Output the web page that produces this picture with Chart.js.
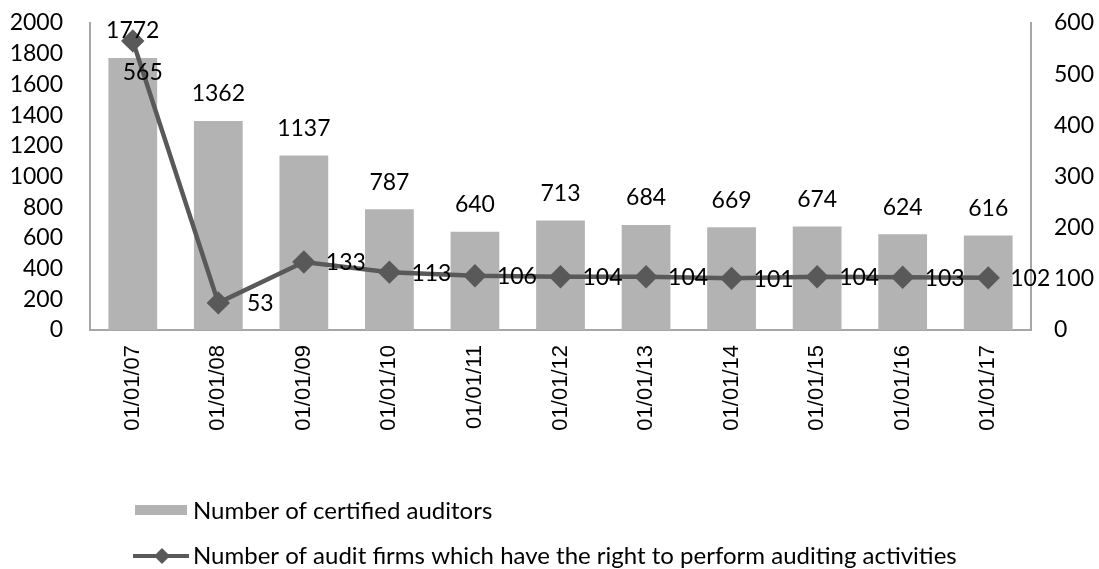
<!DOCTYPE html>
<html lang="en">
  <head>
    <script src="https://cdn.jsdelivr.net/npm/chart.js"></script>
    <meta charset="UTF-8" />
    <title>Auditors and audit firms</title>
    <style>
      body { margin: 0; background: #fff; }
      #wrap { width: 1099px; height: 569px; }
    </style>
  </head>
  <body>
    <div id="wrap"><canvas id="chart" width="1099" height="569"></canvas></div>
    <script>
      const dates = ["01/01/07", "01/01/08", "01/01/09", "01/01/10", "01/01/11", "01/01/12",
                     "01/01/13", "01/01/14", "01/01/15", "01/01/16", "01/01/17"];
      const auditors = [1772, 1362, 1137, 787, 640, 713, 684, 669, 674, 624, 616];
      const firms = [565, 53, 133, 113, 106, 104, 104, 101, 104, 103, 102];
      const auditorsLabel = "Number of certified auditors";
      const firmsLabel = "Number of audit firms which have the right to perform auditing activities";

      const labelFont = "23px Lato";
      const legendFont = "24px Lato";
      const barColor = "#b3b3b3";
      const lineColor = "#595959";
      const axisColor = "#a6a6a6";

      // value labels + legend, drawn on the canvas
      const extras = {
        id: "extras",
        afterDatasetsDraw(chart) {
          const ctx = chart.ctx;
          ctx.save();
          ctx.font = labelFont;
          ctx.fillStyle = "#000";
          ctx.textAlign = "center";
          ctx.textBaseline = "middle";
          chart.getDatasetMeta(1).data.forEach((bar, i) => {
            ctx.fillText(auditors[i], bar.x, bar.y - 27);
          });
          chart.getDatasetMeta(0).data.forEach((pt, i) => {
            if (i === 0) ctx.fillText(firms[i], pt.x + 10, pt.y + 32);
            else ctx.fillText(firms[i], pt.x + 42, pt.y + 1);
          });

          // legend
          ctx.font = legendFont;
          ctx.textAlign = "left";
          ctx.fillStyle = barColor;
          ctx.fillRect(135, 505, 52, 10);
          ctx.fillStyle = "#000";
          ctx.fillText(auditorsLabel, 193, 511);
          ctx.strokeStyle = lineColor;
          ctx.lineWidth = 4;
          ctx.beginPath();
          ctx.moveTo(133, 556);
          ctx.lineTo(189, 556);
          ctx.stroke();
          ctx.fillStyle = lineColor;
          ctx.beginPath();
          ctx.moveTo(162, 548);
          ctx.lineTo(170, 556);
          ctx.lineTo(162, 564);
          ctx.lineTo(154, 556);
          ctx.closePath();
          ctx.fill();
          ctx.fillStyle = "#000";
          ctx.fillText(firmsLabel, 193, 556);
          ctx.restore();
        }
      };

      new Chart(document.getElementById("chart"), {
        data: {
          labels: dates,
          datasets: [
            {
              type: "line",
              label: firmsLabel,
              data: firms,
              yAxisID: "y1",
              borderColor: lineColor,
              backgroundColor: lineColor,
              borderWidth: 4.5,
              pointStyle: "rectRot",
              pointRadius: 8.5,
              pointHoverRadius: 8.5,
              tension: 0,
              order: 0
            },
            {
              type: "bar",
              label: auditorsLabel,
              data: auditors,
              yAxisID: "y",
              backgroundColor: barColor,
              barPercentage: 0.57,
              categoryPercentage: 1,
              order: 1
            }
          ]
        },
        options: {
          responsive: false,
          animation: false,
          layout: { padding: { top: 23, left: 0, right: 0, bottom: 0 } },
          plugins: { legend: { display: false }, tooltip: { enabled: false } },
          scales: {
            x: {
              grid: { display: false, drawTicks: false },
              border: { color: axisColor, width: 2 },
              ticks: {
                minRotation: 90, maxRotation: 90, padding: 15,
                color: "#000",
                font: { family: "Liberation Sans", size: 22 }
              },
              afterFit(s) { s.height = 239; s.paddingLeft = 0; s.paddingRight = 0; }
            },
            y: {
              position: "left",
              min: 0, max: 2000,
              grid: { display: false, drawTicks: false },
              border: { color: axisColor, width: 2 },
              ticks: {
                stepSize: 200, autoSkip: false, padding: 27, color: "#000",
                font: { family: "Lato", size: 23 },
                callback: (v) => String(v)
              },
              afterFit(s) { s.width = 90; s.paddingTop = 0; s.paddingBottom = 0; }
            },
            y1: {
              position: "right",
              min: 0, max: 600,
              grid: { display: false, drawOnChartArea: false, drawTicks: true, tickLength: 8, color: axisColor, tickWidth: 2 },
              border: { color: axisColor, width: 2 },
              ticks: {
                stepSize: 100, autoSkip: false, padding: 15, color: "#000",
                font: { family: "Lato", size: 23 },
                callback: (v) => String(v)
              },
              afterFit(s) { s.width = 68; s.paddingTop = 0; s.paddingBottom = 0; }
            }
          }
        },
        plugins: [extras]
      });
    </script>
  </body>
</html>
